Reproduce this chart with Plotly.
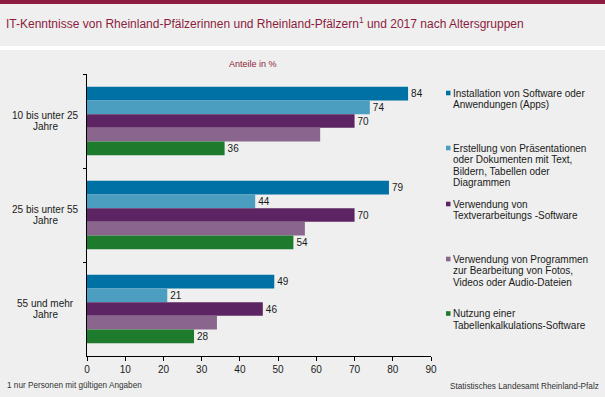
import plotly.graph_objects as go

# ---- data ----
categories = ["10 bis unter 25<br>Jahre", "25 bis unter 55<br>Jahre", "55 und mehr<br>Jahre"]
series_names = [
    "Installation von Software oder<br>Anwendungen (Apps)",
    "Erstellung von Präsentationen<br>oder Dokumenten mit Text,<br>Bildern, Tabellen oder<br>Diagrammen",
    "Verwendung von<br>Textverarbeitungs -Software",
    "Verwendung von Programmen<br>zur Bearbeitung von Fotos,<br>Videos oder Audio-Dateien",
    "Nutzung einer<br>Tabellenkalkulations-Software",
]
values_apps = [84, 79, 49]
values_praes = [74, 44, 21]
values_text = [70, 70, 46]
values_foto = [61, 57, 34]
values_tabelle = [36, 54, 28]
show_labels = [True, True, True, False, True]
x_ticks = [0, 10, 20, 30, 40, 50, 60, 70, 80, 90]

title_text = "IT-Kenntnisse von Rheinland-Pfälzerinnen und Rheinland-Pfälzern<sup>1</sup> und 2017 nach Altersgruppen"
unit_text = "Anteile in %"
footnote_text = "1 nur Personen mit gültigen Angaben"
source_text = "Statistisches Landesamt Rheinland-Pfalz"

# ---- styles ----
colors = ["#0071A4", "#4C9EC0", "#5C2462", "#8A668E", "#1E7A2D"]
accent = "#8C1D40"
bg = "#EEEFEE"
W, H = 605, 397
ML, MR, MT, MB = 87, 174, 74, 41
PW, PH = W - ML - MR, H - MT - MB

def px(x):
    return (x - ML) / PW

def py(y):
    return (H - MB - y) / PH

all_values = [values_apps, values_praes, values_text, values_foto, values_tabelle]

fig = go.Figure()
for name, vals, col, lab in zip(series_names, all_values, colors, show_labels):
    fig.add_trace(go.Bar(
        y=categories, x=vals, orientation="h", name=name.replace("<br>", " "),
        marker=dict(color=col, line=dict(width=0)),
        text=[str(v) for v in vals] if lab else None,
        textposition="outside" if lab else "none",
        textfont=dict(size=10, color="#1a1a1a", family="Liberation Sans, Arial"),
        cliponaxis=False, hoverinfo="skip", showlegend=False,
    ))

shapes = [
    dict(type="rect", xref="paper", yref="paper", x0=px(0), x1=px(W), y0=py(4), y1=py(0),
         fillcolor=accent, line=dict(width=0), layer="below"),
    dict(type="rect", xref="paper", yref="paper", x0=px(0), x1=px(W), y0=py(50), y1=py(46),
         fillcolor="#FFFFFF", line=dict(width=0), layer="below"),
]

annotations = [
    dict(text=title_text, xref="paper", yref="paper", x=px(4), y=py(23), xanchor="left", yanchor="middle",
         showarrow=False, font=dict(size=12, color=accent)),
    dict(text=unit_text, xref="paper", yref="paper", x=px(253), y=py(64), xanchor="center", yanchor="middle",
         showarrow=False, font=dict(size=9, color=accent)),
    dict(text=footnote_text, xref="paper", yref="paper", x=px(5), y=py(385), xanchor="left", yanchor="middle",
         showarrow=False, font=dict(size=8.2, color="#333333")),
    dict(text=source_text, xref="paper", yref="paper", x=px(601), y=py(386), xanchor="right", yanchor="middle",
         showarrow=False, font=dict(size=8.2, color="#333333")),
]

# category labels (centered lines)
line_h_cat = 11.7
for i, cat in enumerate(categories):
    lines = cat.split("<br>")
    center_px = MT + (i + 0.5) * PH / len(categories)
    n = len(lines)
    for j, ln in enumerate(lines):
        ypx = center_px + (j - (n - 1) / 2) * line_h_cat
        annotations.append(dict(text=ln, xref="paper", yref="paper", x=px(45.5), y=py(ypx),
                                xanchor="center", yanchor="middle", showarrow=False,
                                font=dict(size=10, color="#1a1a1a")))

# legend (manual, small squares)
legend_first_line = [93, 148, 204, 259, 313.5]
line_h_leg = 11.5
for name, col, y0 in zip(series_names, colors, legend_first_line):
    shapes.append(dict(type="rect", xref="paper", yref="paper", x0=px(446), x1=px(450.5),
                       y0=py(y0 + 2.3), y1=py(y0 - 2.3), fillcolor=col, line=dict(width=0)))
    for j, ln in enumerate(name.split("<br>")):
        annotations.append(dict(text=ln, xref="paper", yref="paper", x=px(451), y=py(y0 + j * line_h_leg),
                                xanchor="left", yanchor="middle", showarrow=False,
                                font=dict(size=10, color="#1a1a1a")))

fig.update_layout(
    width=W, height=H,
    margin=dict(l=ML, r=MR, t=MT, b=MB, pad=0),
    paper_bgcolor=bg, plot_bgcolor=bg,
    font=dict(family="Liberation Sans, Arial, sans-serif", color="#1a1a1a"),
    barmode="group", bargap=0.27, bargroupgap=0,
    shapes=shapes, annotations=annotations,
    xaxis=dict(range=[0, 90], tickvals=x_ticks, ticks="outside", ticklen=4, tickcolor="#000",
               showline=True, linecolor="#000", linewidth=1, showgrid=False, zeroline=False,
               tickfont=dict(size=10, color="#1a1a1a"), fixedrange=True),
    yaxis=dict(type="category", categoryorder="array", categoryarray=categories,
               autorange="reversed", tickson="boundaries", ticks="outside", ticklen=3, tickcolor="#000",
               showline=True, linecolor="#000", linewidth=1, showgrid=False, showticklabels=False,
               fixedrange=True),
    showlegend=False,
)

fig.write_html("out.html", config={"displayModeBar": False},
               post_script="document.body.style.margin='0';document.body.style.overflow='hidden';")
